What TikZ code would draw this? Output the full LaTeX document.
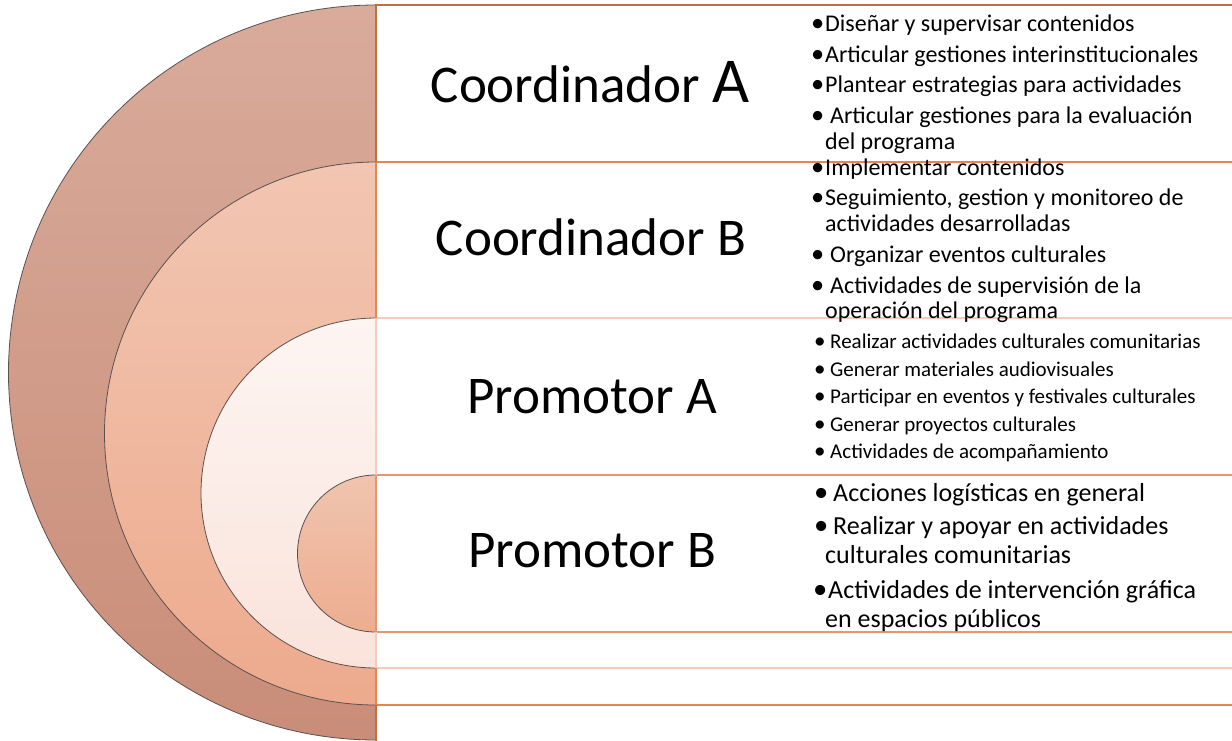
\documentclass[tikz,border=0pt]{standalone}
\usepackage{fontspec}
\usepackage{graphicx}
\setmainfont{Carlito}
\definecolor{ringAtop}{HTML}{D9AB9B}
\definecolor{ringAbot}{HTML}{C98D78}
\definecolor{ringBtop}{HTML}{F2C6B2}
\definecolor{ringBbot}{HTML}{EDAA8D}
\definecolor{ringCtop}{HTML}{FDF5F2}
\definecolor{ringCbot}{HTML}{FAE3DB}
\definecolor{ringDtop}{HTML}{F0C4AF}
\definecolor{ringDbot}{HTML}{EDAD90}
\definecolor{edgeA}{HTML}{C0703E}
\definecolor{edgeB}{HTML}{E8854F}
\definecolor{edgeC}{HTML}{F7CBBC}
\definecolor{edgeD}{HTML}{E89670}
\definecolor{rimline}{HTML}{5A5050}
\newcommand\bul[1]{\makebox[#1][l]{\raisebox{-0.03em}{\scalebox{1.1}{•}}}}
\tikzset{
  ring/.style={draw=rimline, line width=0.8pt},
  bandbox/.style={line width=1.2pt},
  lbl/.style={anchor=base, inner sep=0pt, font=\fontsize{53}{60}\selectfont},
  itemA/.style={anchor=base west, inner sep=0pt, font=\fontsize{24}{28}\selectfont},
  itemC/.style={anchor=base west, inner sep=0pt, font=\fontsize{21}{25}\selectfont},
  itemD/.style={anchor=base west, inner sep=0pt, font=\fontsize{26}{30}\selectfont}
}
\begin{document}
\begin{tikzpicture}[x=1pt,y=-1pt]
\useasboundingbox (0,0) rectangle (1232,740);
\begin{scope}
\clip (0,0) rectangle (1232,740);
% text band boxes
\draw[bandbox, draw=edgeA] (376,5) rectangle (1245,748);
\draw[bandbox, draw=edgeB] (376,162) rectangle (1245,705);
\draw[bandbox, draw=edgeC] (376,318) rectangle (1245,668);
\draw[bandbox, draw=edgeD] (376,475) rectangle (1245,632);
% nested half discs
\shade[ring, top color=ringAtop, bottom color=ringAbot]
  (376,5) arc[start angle=-90, end angle=-270, radius=367.5] -- cycle;
\shade[ring, top color=ringBtop, bottom color=ringBbot]
  (376,162) arc[start angle=-90, end angle=-270, radius=271.5] -- cycle;
\shade[ring, top color=ringCtop, bottom color=ringCbot]
  (376,318) arc[start angle=-90, end angle=-270, radius=175] -- cycle;
\shade[ring, top color=ringDtop, bottom color=ringDbot]
  (376,475) arc[start angle=-90, end angle=-270, radius=78.5] -- cycle;
% left edges of the boxes over the discs
\draw[bandbox, draw=edgeA] (376,5) -- (376,162);
\draw[bandbox, draw=edgeB] (376,162) -- (376,318);
\draw[bandbox, draw=edgeC] (376,318) -- (376,475);
\draw[bandbox, draw=edgeD] (376,475) -- (376,632);
\draw[bandbox, draw=edgeC] (376,632) -- (376,668);
\draw[bandbox, draw=edgeB] (376,668) -- (376,705);
\draw[bandbox, draw=edgeA] (376,705) -- (376,748);
\end{scope}
% labels
\node[lbl] (cA) at (590,102) {Coordinador {\fontsize{64}{70}\selectfont A}};
\node[lbl] (cB) at (591,255) {Coordinador B};
\node[lbl] (pA) at (592,413) {Promotor A};
\node[lbl] (pB) at (592,567) {Promotor B};
% group 1
\node[itemA] (a1) at (811,31) {\bul{14pt}Diseñar y supervisar contenidos};
\node[itemA] (a2) at (811,62) {\bul{14pt}Articular gestiones interinstitucionales};
\node[itemA] (a3) at (811,92) {\bul{14pt}Plantear estrategias para actividades};
\node[itemA] (a4) at (811,123) {\bul{19pt}Articular gestiones para la evaluación};
\node[itemA] (a5) at (825,149) {del programa};
% group 2
\node[itemA] (b1) at (811,175) {\bul{14pt}Implementar contenidos};
\node[itemA] (b2) at (811,205) {\bul{14pt}Seguimiento, gestion y monitoreo de};
\node[itemA] (b3) at (825,231) {actividades desarrolladas};
\node[itemA] (b4) at (811,262) {\bul{19pt}Organizar eventos culturales};
\node[itemA] (b5) at (811,293) {\bul{19pt}Actividades de supervisión de la};
\node[itemA] (b6) at (825,318) {operación del programa};
% group 3
\node[itemC] (c1) at (814,348) {\bul{16pt}Realizar actividades culturales comunitarias};
\node[itemC] (c2) at (814,376) {\bul{16pt}Generar materiales audiovisuales};
\node[itemC] (c3) at (814,403) {\bul{16pt}Participar en eventos y festivales culturales};
\node[itemC] (c4) at (814,431) {\bul{16pt}Generar proyectos culturales};
\node[itemC] (c5) at (814,458) {\bul{16pt}Actividades de acompañamiento};
% group 4
\node[itemD] (d1) at (814,501) {\bul{19pt}Acciones logísticas en general};
\node[itemD] (d2) at (814,534) {\bul{19pt}Realizar y apoyar en actividades};
\node[itemD] (d3) at (825,563) {culturales comunitarias};
\node[itemD] (d4) at (813,598) {\bul{15pt}Actividades de intervención gráfica};
\node[itemD] (d5) at (825,627) {en espacios públicos};
\end{tikzpicture}
\end{document}
